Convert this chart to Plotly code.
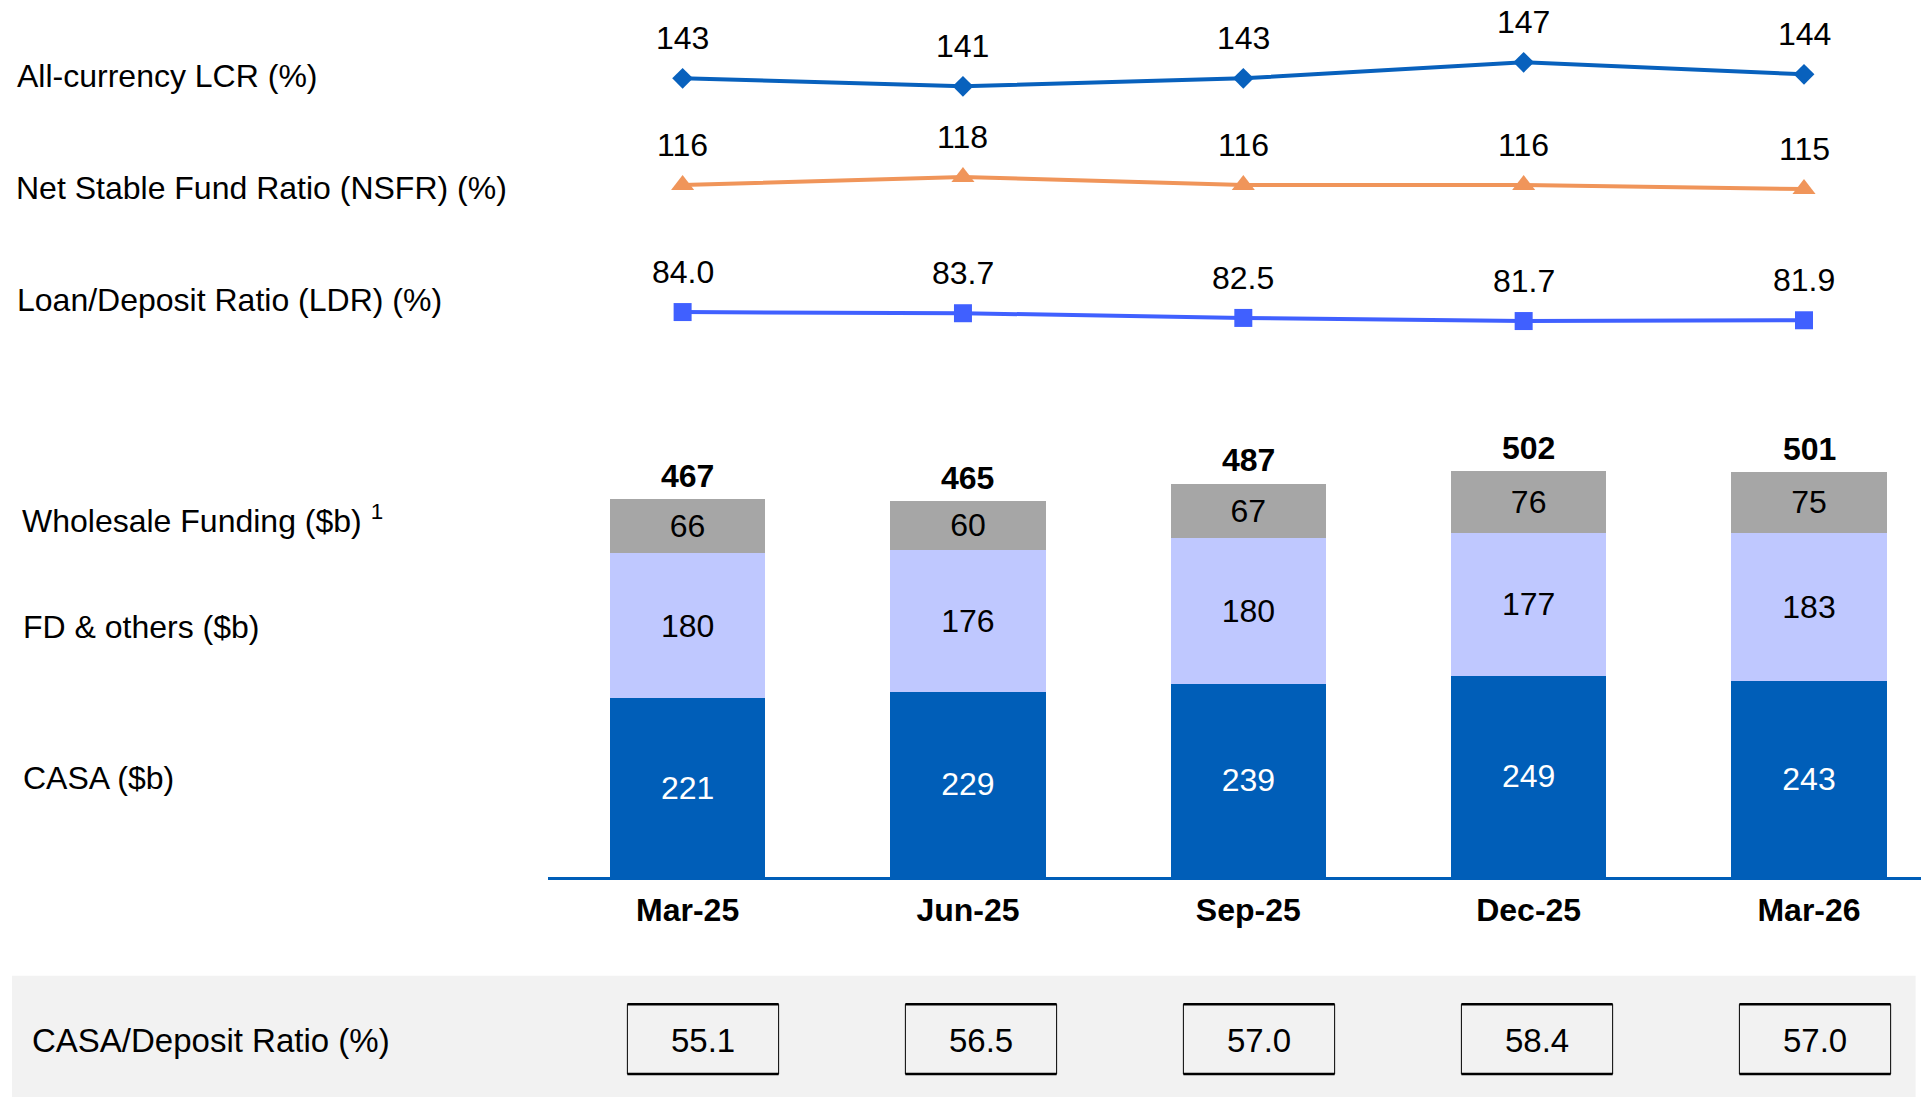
import plotly.graph_objects as go

# ---------------- data ----------------
categories = ["Mar-25", "Jun-25", "Sep-25", "Dec-25", "Mar-26"]
casa = [221, 229, 239, 249, 243]
fd_others = [180, 176, 180, 177, 183]
wholesale = [66, 60, 67, 76, 75]
totals = [467, 465, 487, 502, 501]
lcr = [143, 141, 143, 147, 144]
nsfr = [116, 118, 116, 116, 115]
ldr = [84.0, 83.7, 82.5, 81.7, 81.9]
casa_deposit_ratio = [55.1, 56.5, 57.0, 58.4, 57.0]

row_labels = ["All-currency LCR (%)", "Net Stable Fund Ratio (NSFR) (%)",
              "Loan/Deposit Ratio (LDR) (%)", "Wholesale Funding ($b) <sup>1</sup>",
              "FD & others ($b)", "CASA ($b)"]

# ---------------- style ----------------
OFF = 8  # page body margin
W, H = 1929 - OFF, 1097 - OFF
FONT = "Liberation Sans, Arial, sans-serif"
C_CASA = "#005EB8"
C_FD = "#BFC8FF"
C_WHOLE = "#A6A6A6"
C_LCR = "#0861BD"
C_NSFR = "#F0955A"
C_LDR = "#4060FF"


def py(p):
    return 1 - (p - OFF) / H


def px(p):
    return (p - OFF) / W


fig = go.Figure()

# stacked bars
for name, vals, col, tcol in [("CASA ($b)", casa, C_CASA, "white"),
                              ("FD & others ($b)", fd_others, C_FD, "black"),
                              ("Wholesale Funding ($b)", wholesale, C_WHOLE, "black")]:
    fig.add_trace(go.Bar(
        x=categories, y=vals, name=name, marker=dict(color=col, line=dict(width=0)),
        text=[str(v) for v in vals], textposition="inside", insidetextanchor="middle",
        textangle=0, constraintext="none",
        textfont=dict(family=FONT, size=32, color=tcol),
        xaxis="x", yaxis="y", hoverinfo="skip"))

# lines
for vals, col, sym, size, yax in [(lcr, C_LCR, "diamond", 16, "y2"),
                                   (nsfr, C_NSFR, "triangle-up", 20, "y3"),
                                   (ldr, C_LDR, "square", 18, "y4")]:
    fig.add_trace(go.Scatter(
        x=categories, y=vals, mode="lines+markers",
        line=dict(color=col, width=4),
        marker=dict(symbol=sym, size=size, color=col, line=dict(width=0)),
        xaxis="x2", yaxis=yax, cliponaxis=False, hoverinfo="skip"))

annotations = []
# line value labels
for vals, yref, fmt in [(lcr, "y2", "{:.0f}"), (nsfr, "y3", "{:.0f}"), (ldr, "y4", "{:.1f}")]:
    for c, v in zip(categories, vals):
        annotations.append(dict(x=c, y=v, xref="x2", yref=yref, text=fmt.format(v),
                                showarrow=False, yshift=40, yanchor="middle",
                                font=dict(family=FONT, size=32, color="black")))
# totals above bars
for c, t in zip(categories, totals):
    annotations.append(dict(x=c, y=t, xref="x", yref="y", text=f"<b>{t}</b>",
                            showarrow=False, yshift=23, yanchor="middle",
                            font=dict(family=FONT, size=32, color="black")))
# row labels
for lab, ypix, xpix in zip(row_labels, [76, 188, 300, 519, 627, 778], [15, 14, 15, 20, 21, 21]):
    annotations.append(dict(x=px(xpix), y=py(ypix), xref="paper", yref="paper", text=lab,
                            showarrow=False, xanchor="left", yanchor="middle",
                            font=dict(family=FONT, size=32, color="black")))
annotations.append(dict(x=px(30), y=py(1040), xref="paper", yref="paper",
                        text="CASA/Deposit Ratio (%)", showarrow=False,
                        xanchor="left", yanchor="middle",
                        font=dict(family=FONT, size=33, color="black")))

shapes = [dict(type="rect", xref="paper", yref="paper", x0=px(12), x1=px(1915.6),
               y0=0, y1=py(975.7), fillcolor="#F2F2F2", line=dict(width=0), layer="below")]
half = 0.272
for i, v in enumerate(casa_deposit_ratio):
    shapes.append(dict(type="rect", xref="x3", yref="paper", x0=i - half, x1=i + half,
                       y0=py(1074), y1=py(1004.3), line=dict(color="black", width=1)))
    for yy in (py(1074), py(1004.3)):
        shapes.append(dict(type="line", xref="x3", yref="paper", x0=i - half, x1=i + half,
                           y0=yy, y1=yy, line=dict(color="black", width=2.5)))
    annotations.append(dict(x=i, y=py(1040), xref="x3", yref="paper", text=f"{v:.1f}",
                            showarrow=False, yanchor="middle",
                            font=dict(family=FONT, size=33, color="black")))

xr = [-0.498, 4.428]
fig.update_layout(
    width=W, height=H, margin=dict(l=0, r=0, t=0, b=0),
    paper_bgcolor="white", plot_bgcolor="rgba(0,0,0,0)",
    showlegend=False, barmode="stack", bargap=0.445,
    font=dict(family=FONT, color="black"),
    xaxis=dict(domain=[px(548), 1], range=xr, anchor="y", showline=True,
               linecolor=C_CASA, linewidth=2.5, ticks="", showgrid=False, zeroline=False,
               tickfont=dict(family=FONT, size=32, color="black", weight="bold"),
               ticklabelstandoff=3),
    yaxis=dict(domain=[py(877), py(330)], range=[0, 547 / 0.8085], visible=False),
    xaxis2=dict(domain=[px(543), px(1924)], range=xr, anchor="y2", visible=False),
    yaxis2=dict(domain=[py(120), py(20)], range=[(650.3 - 120) / 4, (650.3 - 20) / 4],
                anchor="x2", visible=False),
    yaxis3=dict(domain=[py(230), py(130)], range=[(649 - 230) / 4, (649 - 130) / 4],
                anchor="x2", visible=False),
    yaxis4=dict(domain=[py(325), py(240)], range=[(640.5 - 325) / 3.91, (640.5 - 240) / 3.91],
                anchor="x2", visible=False),
    xaxis3=dict(domain=[px(564), 1], range=[-0.5, 4.41], anchor="y", visible=False),
    annotations=annotations, shapes=shapes,
)

fig.write_html("out.html")
